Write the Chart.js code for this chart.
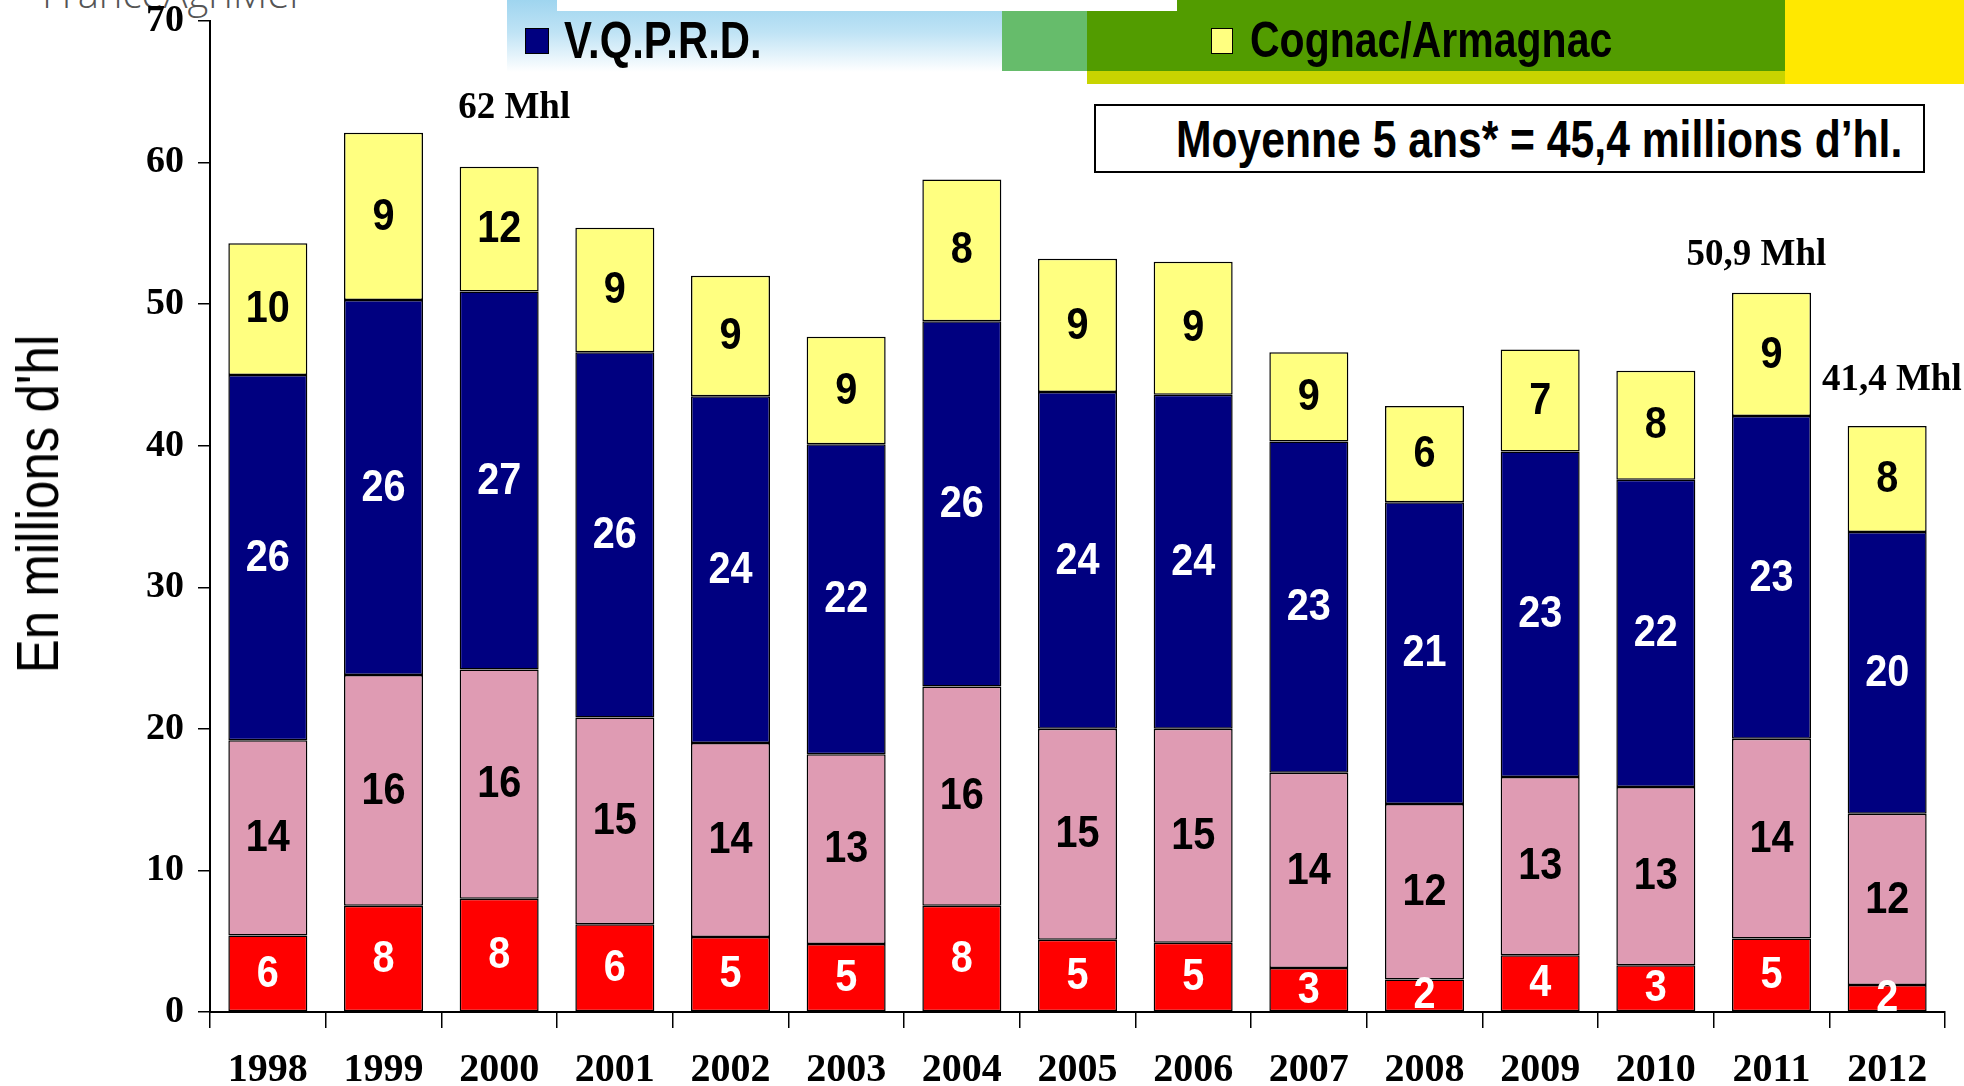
<!DOCTYPE html>
<html><head><meta charset="utf-8">
<script src="https://cdn.jsdelivr.net/npm/chart.js@4.4.1/dist/chart.umd.min.js"></script>
<style>
html,body{margin:0;padding:0;background:#fff;}
#wrap{position:relative;width:1964px;height:1086px;overflow:hidden;background:#fff;}
canvas{position:absolute;left:0;top:0;}
.abs{position:absolute;}
.nar{position:absolute;font-family:'Liberation Sans',Arial,sans-serif;font-weight:bold;color:#000;line-height:1;transform:scaleX(0.82);transform-origin:0 50%;white-space:nowrap;}
#ytitle{position:absolute;left:38px;top:504px;font-family:'Liberation Sans',Arial,sans-serif;font-size:60px;line-height:1;color:#000;white-space:nowrap;transform:translate(-50%,-50%) rotate(-90deg) scaleX(0.85);}
</style></head>
<body><div id="wrap">
 <div class="abs" style="left:507px;top:0;width:495px;height:72px;background:linear-gradient(#9fd5ef,#bfe3f5 45%,#ffffff)"></div>
 <div class="abs" style="left:1002px;top:0;width:85px;height:71px;background:#66bc6b;"></div>
 <div class="abs" style="left:1087px;top:0;width:698px;height:71px;background:#529c00;"></div>
 <div class="abs" style="left:1087px;top:71px;width:698px;height:13px;background:#c8d400;"></div>
 <div class="abs" style="left:1785px;top:0;width:179px;height:84px;background:#ffe800;"></div>
 <div class="abs" style="left:557px;top:0;width:620px;height:11px;background:#fff;"></div>
 <div class="abs" style="left:42px;top:-27px;font-family:'Open Sans',sans-serif;font-weight:300;font-size:40px;line-height:1;color:#555;white-space:nowrap;">FranceAgriMer</div>
 <canvas id="c" width="1964" height="1086"></canvas>
 <div id="ytitle">En millions d'hl</div>
 <div class="abs" style="left:525px;top:28px;width:22px;height:24px;background:#000080;border:1px solid #000;"></div>
 <div class="nar" style="left:564px;top:15px;font-size:51px;">V.Q.P.R.D.</div>
 <div class="abs" style="left:1211px;top:28px;width:20px;height:24px;background:#ffff80;border:1px solid #000;"></div>
 <div class="nar" style="left:1250px;top:15px;font-size:50px;">Cognac/Armagnac</div>
 <div class="abs" style="left:1094px;top:104px;width:827px;height:65px;border:2px solid #000;background:#fff;"></div>
 <div class="nar" style="left:1176px;top:113px;font-size:52px;">Moyenne 5 ans* = 45,4 millions d’hl.</div>
</div>
<script>
// Categories
const years = ['1998','1999','2000','2001','2002','2003','2004','2005','2006','2007','2008','2009','2010','2011','2012'];
const redValues    = [5.4, 7.5, 8.0, 6.2, 5.3, 4.8, 7.5, 5.1, 4.9, 3.1, 2.3, 4.0, 3.3, 5.2, 1.9];
const pinkValues   = [13.8, 16.3, 16.2, 14.6, 13.7, 13.4, 15.5, 14.9, 15.1, 13.8, 12.4, 12.6, 12.6, 14.1, 12.1];
const vqprdValues  = [25.8, 26.5, 26.7, 25.8, 24.5, 21.9, 25.8, 23.8, 23.6, 23.4, 21.3, 23.0, 21.7, 22.8, 19.9];
const cognacValues = [9.3, 11.8, 8.8, 8.8, 8.5, 7.6, 10.0, 9.4, 9.4, 6.3, 6.8, 7.2, 7.7, 8.7, 7.5];
// Labels printed inside the segments in the original
const redLabels    = [6, 8, 8, 6, 5, 5, 8, 5, 5, 3, 2, 4, 3, 5, 2];
const pinkLabels   = [14, 16, 16, 15, 14, 13, 16, 15, 15, 14, 12, 13, 13, 14, 12];
const vqprdLabels  = [26, 26, 27, 26, 24, 22, 26, 24, 24, 23, 21, 23, 22, 23, 20];
const cognacLabels = [10, 9, 12, 9, 9, 9, 8, 9, 9, 9, 6, 7, 8, 9, 8];
// Y axis ticks
const yTicks = [0, 10, 20, 30, 40, 50, 60, 70];
// Total annotations (category index, value)
const noteTexts  = ['62 Mhl', '50,9 Mhl', '41,4 Mhl'];
const noteIndex  = [2.13, 12.87, 14.04];
const noteValues = [63.8, 53.45, 44.6];

const segLabelPlugin = {
  id: 'segLabels',
  afterDatasetsDraw(chart) {
    const ctx = chart.ctx;
    ctx.save();
    ctx.textAlign = 'center';
    ctx.textBaseline = 'middle';
    ctx.font = 'bold 44px "Liberation Sans", Arial, sans-serif';
    chart.data.datasets.forEach((ds, i) => {
      const meta = chart.getDatasetMeta(i);
      meta.data.forEach((bar, j) => {
        ctx.save();
        ctx.translate(bar.x, (bar.y + bar.base) / 2 + 1);
        ctx.scale(0.9, 1);
        ctx.fillStyle = ds.labelColor;
        ctx.fillText(String(ds.shownLabels[j]), 0, 0);
        ctx.restore();
      });
    });
    const xs = chart.scales.x, ys = chart.scales.y;
    ctx.font = 'bold 37px "Liberation Serif", serif';
    ctx.fillStyle = '#000';
    noteTexts.forEach((t, k) => {
      ctx.fillText(t, xs.getPixelForValue(noteIndex[k]), ys.getPixelForValue(noteValues[k]));
    });
    ctx.restore();
  }
};

const common = { borderColor: '#000', borderWidth: 1.5, borderSkipped: false, barPercentage: 0.683, categoryPercentage: 1.0 };
new Chart(document.getElementById('c'), {
  type: 'bar',
  data: {
    labels: years,
    datasets: [
      Object.assign({ label: 'Autres vins', data: redValues, backgroundColor: '#ff0000', labelColor: '#fff', shownLabels: redLabels }, common),
      Object.assign({ label: 'Vins de pays', data: pinkValues, backgroundColor: '#df9bb3', labelColor: '#000', shownLabels: pinkLabels }, common),
      Object.assign({ label: 'V.Q.P.R.D.', data: vqprdValues, backgroundColor: '#000080', labelColor: '#fff', shownLabels: vqprdLabels }, common),
      Object.assign({ label: 'Cognac/Armagnac', data: cognacValues, backgroundColor: '#ffff80', labelColor: '#000', shownLabels: cognacLabels }, common)
    ]
  },
  plugins: [segLabelPlugin],
  options: {
    responsive: false, animation: false, devicePixelRatio: 1,
    layout: { padding: { left: 0, top: 21, right: 19, bottom: 0 } },
    plugins: { legend: { display: false }, tooltip: { enabled: false }, title: { display: false } },
    scales: {
      x: {
        stacked: true,
        grid: { drawOnChartArea: false, drawTicks: true, tickLength: 16, color: '#000', lineWidth: 1.5, offset: true },
        border: { color: '#000', width: 2 },
        ticks: { color: '#000', font: { family: '"Liberation Serif", serif', weight: 'bold', size: 40 }, padding: 19, maxRotation: 0, autoSkip: false },
        afterFit(s) { s.height = 74; s.paddingLeft = 0; s.paddingRight = 0; }
      },
      y: {
        stacked: true, min: 0, max: 70,
        afterBuildTicks(s) { s.ticks = yTicks.map(v => ({ value: v })); },
        ticks: { color: '#000', font: { family: '"Liberation Serif", serif', weight: 'bold', size: 38, lineHeight: 1 }, padding: 14 },
        grid: { drawOnChartArea: false, drawTicks: true, tickLength: 12, color: '#000', lineWidth: 1.5 },
        border: { color: '#000', width: 2 },
        title: { display: false },
        afterFit(s) { s.width = 210; s.paddingTop = 0; s.paddingBottom = 0; }
      }
    }
  }
});
</script>
</body></html>
